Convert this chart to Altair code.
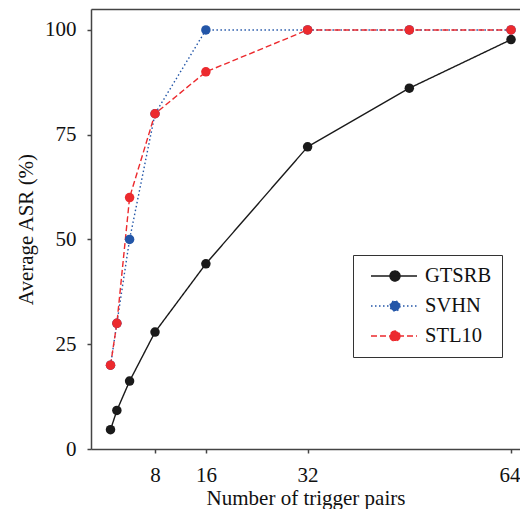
import altair as alt
import pandas as pd

pairs = [1, 2, 4, 8, 16, 32, 48, 64]
gtsrb = [4.6, 9.2, 16.2, 27.9, 44.2, 72.1, 86.1, 97.7]
svhn = [20, 30, 50, 80, 100, 100, 100, 100]
stl10 = [20, 30, 60, 80, 90, 100, 100, 100]
series = ["GTSRB", "SVHN", "STL10"]
colors = ["#1a1a1a", "#2356a8", "#ec2a2e"]
dashes = [[1, 0], [1.5, 2.5], [6, 3]]
x_ticks = [8, 16, 32, 64]
y_ticks = [0, 25, 50, 75, 100]

rows = []
for name, vals in zip(series, [gtsrb, svhn, stl10]):
    for p, v in zip(pairs, vals):
        rows.append({"pairs": p, "asr": v, "dataset": name})
df = pd.DataFrame(rows)

FONT = "'Liberation Serif', 'Times New Roman', 'DejaVu Serif', serif"
x_scale = alt.Scale(domain=[-2.07, 65.41], nice=False, zero=False)
y_scale = alt.Scale(domain=[0, 105], nice=False, zero=False)

symbol_path = "M-0.3,0H4.3M2.6,0A0.5,0.5,0,1,1,1.6,0A0.5,0.5,0,1,1,2.6,0Z"

leg = alt.Legend(
    title=None, orient="none", legendX=262, legendY=246,
    symbolType=symbol_path, symbolSize=400, symbolStrokeWidth=1.4,
    labelFont=FONT, labelFontSize=20.5, labelColor="#111", labelOffset=40,
    padding=10, rowPadding=8, strokeColor="#333",
    labelExpr="datum.label + '   '",
)

lines = alt.Chart(df).mark_line(
    strokeWidth=1.4,
    point=alt.OverlayMarkDef(filled=True, size=90, opacity=1),
).encode(
    x=alt.X("pairs:Q", scale=x_scale,
            axis=alt.Axis(values=x_ticks, title="Number of trigger pairs",
                          labelBaseline="alphabetic", labelPadding=28,
                          labelFlush=15, labelFlushOffset=9,
                          titleY=55, titleBaseline="alphabetic")),
    y=alt.Y("asr:Q", scale=y_scale,
            axis=alt.Axis(values=y_ticks, title="Average ASR (%)",
                          labelPadding=11, titleX=-58.5, titleBaseline="alphabetic")),
    color=alt.Color("dataset:N", scale=alt.Scale(domain=series, range=colors), legend=leg),
    strokeDash=alt.StrokeDash("dataset:N", scale=alt.Scale(domain=series, range=dashes), legend=leg),
)

top = alt.Chart(df).mark_point(opacity=0).encode(
    x=alt.X("pairs:Q", scale=x_scale,
            axis=alt.Axis(orient="top", labels=False, ticks=False, title=None)),
)

chart = alt.layer(lines, top).resolve_axis(x="independent").properties(
    width=429, height=440,
    autosize=alt.AutoSizeParams(type="none"),
    padding={"left": 83, "top": 1, "right": 0, "bottom": 60},
).configure_axis(
    labelFont=FONT, titleFont=FONT, labelFontSize=21, titleFontSize=21,
    titleFontWeight="normal", labelColor="#111", titleColor="#111",
    domainColor="#444", tickColor="#444", domainWidth=1.5, tickWidth=1.5,
    tickSize=4, grid=False,
).configure_view(stroke=None)

chart.save("out.html", embed_options={"renderer": "svg", "actions": False})
